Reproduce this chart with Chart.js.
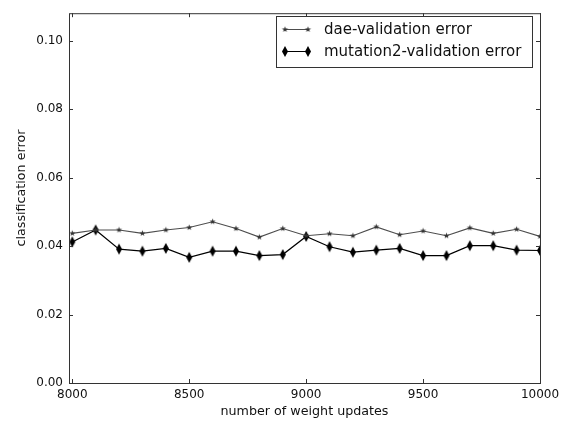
<!DOCTYPE html>
<html>
<head>
<meta charset="utf-8">
<script src="https://cdn.jsdelivr.net/npm/chart.js@4/dist/chart.umd.min.js"></script>
<style>
  html, body { margin: 0; padding: 0; background: #fff; }
  #chart { display: block; }
</style>
</head>
<body>
<canvas id="chart" width="565" height="424"></canvas>
<script>
// weight updates on the x axis
const updates = [8000, 8100, 8200, 8300, 8400, 8500, 8600, 8700, 8800, 8900, 9000,
  9100, 9200, 9300, 9400, 9500, 9600, 9700, 9800, 9900, 10000];

const daeError = [0.0437, 0.0447, 0.0447, 0.0437, 0.0447, 0.0454, 0.0471, 0.0451, 0.0426, 0.0451, 0.0430,
  0.0436, 0.0430, 0.0456, 0.0433, 0.0444, 0.0430, 0.0453, 0.0437, 0.0449, 0.0428];

const mutationError = [0.0412, 0.0447, 0.0391, 0.0385, 0.0393, 0.0367, 0.0385, 0.0385, 0.0372, 0.0375, 0.0428,
  0.0398, 0.0382, 0.0388, 0.0393, 0.0372, 0.0372, 0.0401, 0.0401, 0.0388, 0.0387];

const xTicks = [8000, 8500, 9000, 9500, 10000];
const yTicks = [0, 0.02, 0.04, 0.06, 0.08, 0.10];

const seriesNames = ["dae-validation error", "mutation2-validation error"];
const yTitle = "classification error";

const FONT = "'DejaVu Sans', sans-serif";
const FRAME = "#333";

// small filled star marker
function makeStar(r, color) {
  const c = document.createElement("canvas");
  const size = Math.ceil(r * 2 + 2);
  c.width = size; c.height = size;
  const g = c.getContext("2d");
  const cx = size / 2, cy = size / 2;
  g.beginPath();
  for (let i = 0; i < 10; i++) {
    const rad = i % 2 === 0 ? r : r * 0.42;
    const a = -Math.PI / 2 + i * Math.PI / 5;
    const px = cx + rad * Math.cos(a), py = cy + rad * Math.sin(a);
    if (i === 0) g.moveTo(px, py); else g.lineTo(px, py);
  }
  g.closePath();
  g.fillStyle = color;
  g.fill();
  return c;
}

// tall thin diamond marker
function makeDiamond(w, h, color) {
  const c = document.createElement("canvas");
  c.width = w + 2; c.height = h + 2;
  const g = c.getContext("2d");
  const cx = c.width / 2, cy = c.height / 2;
  g.beginPath();
  g.moveTo(cx, cy - h / 2);
  g.lineTo(cx + w / 2, cy);
  g.lineTo(cx, cy + h / 2);
  g.lineTo(cx - w / 2, cy);
  g.closePath();
  g.fillStyle = color;
  g.fill();
  return c;
}

const starMark = makeStar(3.2, "#333");
const diamondMark = makeDiamond(6, 11, "#000");

// axes box with inward ticks on every side, y title and legend
const framePlugin = {
  id: "frame",
  afterDraw(chart) {
    const { ctx, chartArea: a, scales } = chart;
    ctx.save();
    ctx.strokeStyle = FRAME;
    ctx.lineWidth = 1;
    ctx.strokeRect(a.left + 0.5, a.top + 0.5, a.right - a.left, a.bottom - a.top);
    ctx.beginPath();
    xTicks.forEach(v => {
      const px = Math.round(scales.x.getPixelForValue(v)) + 0.5;
      ctx.moveTo(px, a.bottom); ctx.lineTo(px, a.bottom - 4);
      ctx.moveTo(px, a.top); ctx.lineTo(px, a.top + 4);
    });
    yTicks.forEach(v => {
      const py = Math.round(scales.y.getPixelForValue(v)) + 0.5;
      ctx.moveTo(a.left, py); ctx.lineTo(a.left + 4, py);
      ctx.moveTo(a.right, py); ctx.lineTo(a.right - 4, py);
    });
    ctx.stroke();

    // y axis title
    ctx.save();
    ctx.translate(22, 188);
    ctx.rotate(-Math.PI / 2);
    ctx.font = "12.7px " + FONT;
    ctx.fillStyle = "#111";
    ctx.textAlign = "center";
    ctx.textBaseline = "middle";
    ctx.fillText(yTitle, 0, 0);
    ctx.restore();

    // legend box
    const bx = 276.5, by = 16.5, bw = 256, bh = 51;
    ctx.fillStyle = "#fff";
    ctx.fillRect(bx, by, bw, bh);
    ctx.strokeStyle = FRAME;
    ctx.strokeRect(bx, by, bw, bh);
    const rows = [
      { y: 29, color: "#4d4d4d", mark: starMark },
      { y: 51, color: "#000", mark: diamondMark }
    ];
    ctx.font = "15px " + FONT;
    ctx.textBaseline = "middle";
    ctx.textAlign = "left";
    rows.forEach((r, i) => {
      ctx.strokeStyle = r.color;
      ctx.beginPath();
      ctx.moveTo(285, r.y + 0.5);
      ctx.lineTo(308, r.y + 0.5);
      ctx.stroke();
      [285, 308].forEach(mx => {
        ctx.drawImage(r.mark, mx - r.mark.width / 2, r.y + 0.5 - r.mark.height / 2);
      });
      ctx.fillStyle = "#111";
      ctx.fillText(seriesNames[i], 324, r.y + 1);
    });
    ctx.restore();
  }
};

new Chart(document.getElementById("chart"), {
  type: "line",
  data: {
    datasets: [
      {
        label: seriesNames[0],
        data: updates.map((x, i) => ({ x: x, y: daeError[i] })),
        borderColor: "#4d4d4d",
        borderWidth: 1.1,
        pointStyle: starMark,
        pointRadius: 4,
        tension: 0
      },
      {
        label: seriesNames[1],
        data: updates.map((x, i) => ({ x: x, y: mutationError[i] })),
        borderColor: "#000",
        borderWidth: 1.2,
        pointStyle: diamondMark,
        pointRadius: 6,
        tension: 0
      }
    ]
  },
  options: {
    responsive: false,
    animation: false,
    devicePixelRatio: 1,
    layout: { padding: { top: 7, right: 25, left: 0, bottom: 0 } },
    plugins: {
      legend: { display: false },
      tooltip: { enabled: false }
    },
    scales: {
      x: {
        type: "linear",
        min: 7986,
        max: 10000,
        afterBuildTicks: s => { s.ticks = xTicks.map(v => ({ value: v })); },
        afterFit: s => { s.height = 41; },
        grid: { display: false, drawTicks: false },
        border: { display: false },
        ticks: {
          padding: 5,
          color: "#111",
          font: { family: FONT, size: 12 },
          callback: v => String(v)
        },
        title: {
          display: true,
          text: "number of weight updates",
          color: "#111",
          font: { family: FONT, size: 12.7 },
          padding: { top: 0, bottom: 5 }
        }
      },
      y: {
        min: 0,
        max: 0.108,
        afterBuildTicks: s => { s.ticks = yTicks.map(v => ({ value: v })); },
        afterFit: s => { s.width = 69; },
        grid: { display: false, drawTicks: false },
        border: { display: false },
        ticks: {
          padding: 6,
          color: "#111",
          font: { family: FONT, size: 12 },
          callback: v => v.toFixed(2)
        }
      }
    }
  },
  plugins: [framePlugin]
});
</script>
</body>
</html>
